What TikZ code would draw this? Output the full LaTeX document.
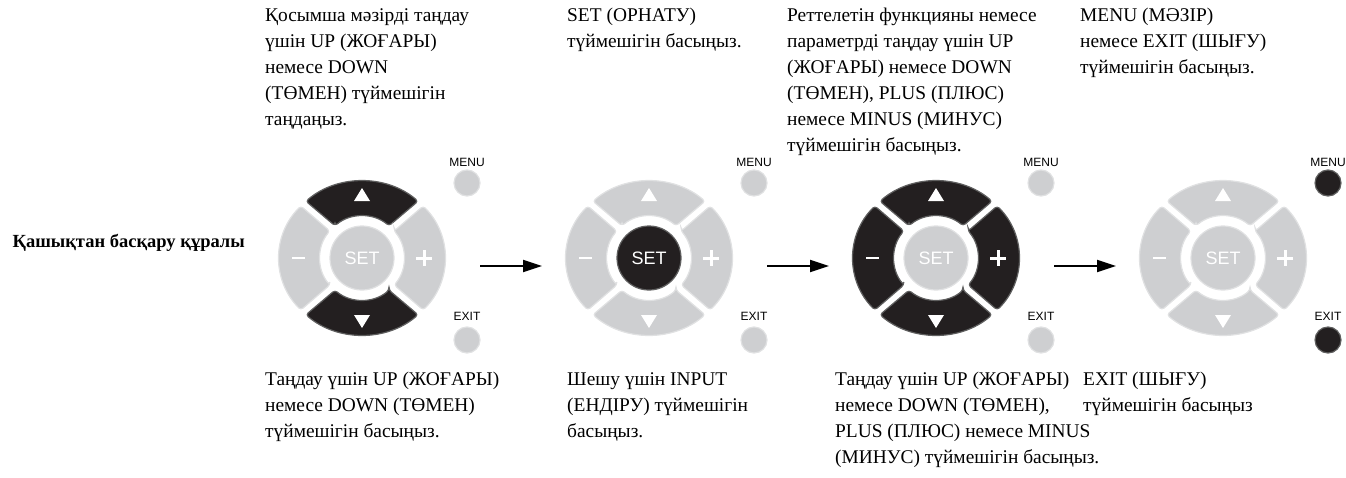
\documentclass[tikz,border=0pt]{standalone}
\usepackage{fontspec}
\setmainfont{Liberation Serif}
\setsansfont{Liberation Sans}
\usetikzlibrary{arrows.meta}

\definecolor{padgray}{RGB}{206,207,209}
\definecolor{padrim}{RGB}{224,225,226}
\definecolor{padblack}{RGB}{35,31,32}
\definecolor{padedge}{RGB}{95,95,95}

\tikzset{
  padoff/.style={fill=padgray,draw=padrim,line width=1.2pt},
  padon/.style={fill=padblack,draw=padedge,line width=1.2pt},
  keylabel/.style={font=\sffamily\fontsize{12}{12}\selectfont,inner sep=0pt},
  note/.style={anchor=north west,align=left,inner sep=0pt,font=\fontsize{19.4}{26}\selectfont},
  flow/.style={-{Triangle[length=19pt,width=12pt]},line width=2pt}
}

% one segment of the arrow pad: #1 direction, #2 style
\newcommand{\padseg}[2]{%
  \path[#2,rounded corners=3pt] ({#1-40}:42) -- ({#1-42.5}:83 and 77)
    arc[start angle=#1-42.5,end angle=#1+42.5,x radius=83,y radius=77]
    -- ({#1+40}:42) arc[start angle=#1+40,end angle=#1-40,radius=42] -- cycle;}

% #1 name, #2 x of centre, #3 up/down, #4 minus/plus, #5 SET, #6 MENU/EXIT
\newcommand{\drawremote}[6]{%
\begin{scope}[shift={(#2,258)}]
  \coordinate (#1) at (0,0);
  \padseg{90}{#3}
  \padseg{270}{#3}
  \padseg{0}{#4}
  \padseg{180}{#4}
  % signs on the pad
  \fill[white] (-8,-57) -- (8,-57) -- (0,-70) -- cycle;
  \fill[white] (-8,57) -- (8,57) -- (0,70) -- cycle;
  \draw[white,line width=2.4pt] (-70,0) -- (-57,0);
  \draw[white,line width=3pt] (54,0) -- (70,0) (62,-8) -- (62,8);
  \node[circle,minimum size=64pt,inner sep=0pt,#5,text=white,
    font=\sffamily\fontsize{18}{18}\selectfont] (#1set) at (0,0) {SET};
  % MENU and EXIT keys
  \node[keylabel] (#1mlab) at (105,-96) {MENU};
  \node[circle,minimum size=26pt,inner sep=0pt,#6] (#1menu) at (105,-75) {};
  \node[keylabel] (#1elab) at (105,58) {EXIT};
  \node[circle,minimum size=26pt,inner sep=0pt,#6] (#1exit) at (105,82) {};
  \coordinate (#1o) at (118,8);
  \coordinate (#1i) at (-107,8);
\end{scope}}

\begin{document}
\begin{tikzpicture}[x=1pt,y=-1pt]
\useasboundingbox (0,0) rectangle (1346,477);
\node[anchor=east,inner sep=0pt,font=\bfseries\fontsize{18.5}{18.5}\selectfont] (title) at (245,243)
  {Қашықтан басқару құралы};
% the four remotes
\drawremote{r1}{362}{padon}{padoff}{padoff}{padoff}
\drawremote{r2}{649}{padoff}{padoff}{padon}{padoff}
\drawremote{r3}{936}{padon}{padon}{padoff}{padoff}
\drawremote{r4}{1223}{padoff}{padoff}{padoff}{padon}
% steps
\draw[flow] (r1o) -- (r2i);
\draw[flow] (r2o) -- (r3i);
\draw[flow] (r3o) -- (r4i);
% texts above
\node[note] (t1) at (265,8) {Қосымша мәзірді таңдау\\үшін UP (ЖОҒАРЫ)\\немесе DOWN\\(ТӨМЕН) түймешігін\\таңдаңыз.};
\node[note] (t2) at (567,8) {SET (ОРНАТУ)\\түймешігін басыңыз.};
\node[note] (t3) at (787,8) {Реттелетін функцияны немесе\\параметрді таңдау үшін UP\\(ЖОҒАРЫ) немесе DOWN\\(ТӨМЕН), PLUS (ПЛЮС)\\немесе MINUS (МИНУС)\\түймешігін басыңыз.};
\node[note] (t4) at (1080,8) {MENU (МӘЗІР)\\немесе EXIT (ШЫҒУ)\\түймешігін басыңыз.};
% texts below
\node[note] (b1) at (265,372) {Таңдау үшін UP (ЖОҒАРЫ)\\немесе DOWN (ТӨМЕН)\\түймешігін басыңыз.};
\node[note] (b2) at (567,372) {Шешу үшін INPUT\\(ЕНДІРУ) түймешігін\\басыңыз.};
\node[note] (b3) at (835,372) {Таңдау үшін UP (ЖОҒАРЫ)\\немесе DOWN (ТӨМЕН),\\PLUS (ПЛЮС) немесе MINUS\\(МИНУС) түймешігін басыңыз.};
\node[note] (b4) at (1083,372) {EXIT (ШЫҒУ)\\түймешігін басыңыз};
\end{tikzpicture}
\end{document}
